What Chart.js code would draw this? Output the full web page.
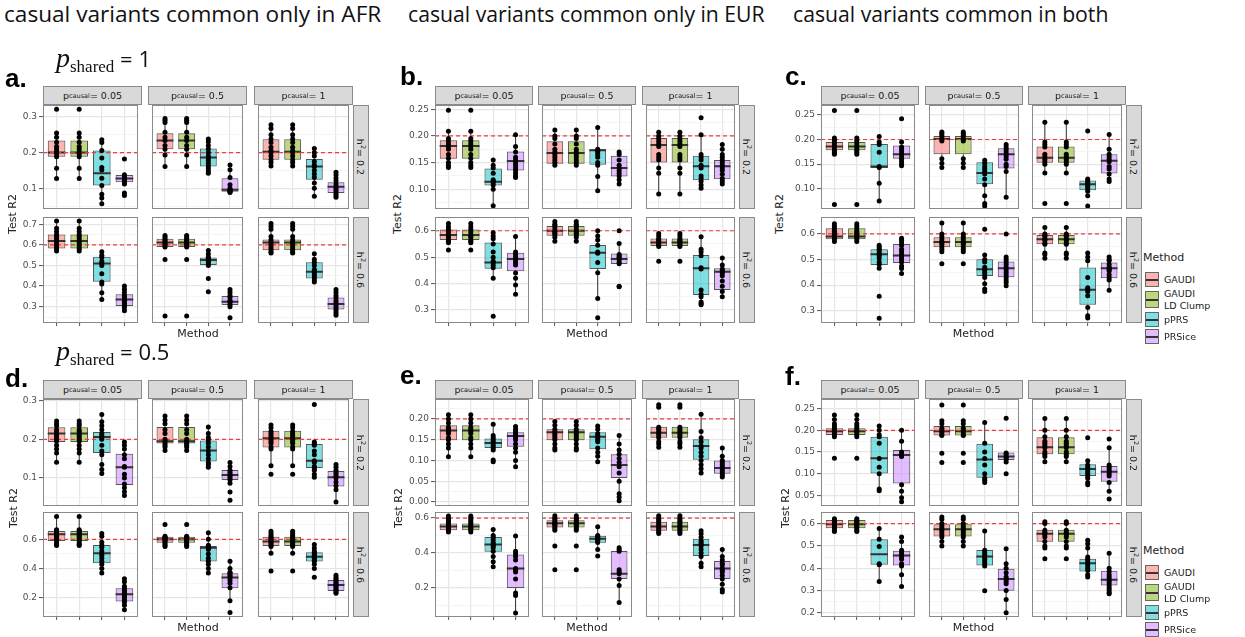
<!DOCTYPE html>
<html>
<head>
<meta charset="utf-8">
<script src="https://cdn.jsdelivr.net/npm/chart.js@4/dist/chart.umd.min.js"></script>
<style>
body { margin: 0; width: 1245px; height: 637px; position: relative; overflow: hidden; background: #fff; font-family: "DejaVu Sans", sans-serif; }
.strip { position: absolute; box-sizing: border-box; background: #d9d9d9; border: 1px solid #8a8a8a; color: #1a1a1a; font-size: 9.5px; display: flex; align-items: center; justify-content: center; white-space: nowrap; }
.strip sub { font-size: 6.5px; vertical-align: -1px; }
.strip sup { font-size: 6.5px; vertical-align: 4px; }
.rot { transform: rotate(90deg); }
.txt { position: absolute; white-space: nowrap; }
</style>
</head>
<body>
<script>
var methods = ['GAUDI', 'GAUDI\nLD Clump', 'pPRS', 'PRSice'];
var pcausal = ['0.05', '0.5', '1'];
var h2 = ['0.2', '0.6'];
var refLine = [0.2, 0.6];

// box: [whisker low, q1, median, q3, whisker high] for GAUDI, LD Clump, pPRS, PRSice; one block per p_causal
var boxA1 = [
  [[0.127,0.188,0.200,0.234,0.255],[0.127,0.188,0.200,0.234,0.255],[0.057,0.108,0.142,0.206,0.238],[0.112,0.117,0.127,0.137,0.140]],
  [[0.161,0.209,0.234,0.254,0.295],[0.161,0.209,0.234,0.254,0.295],[0.142,0.161,0.186,0.211,0.239],[0.087,0.090,0.096,0.128,0.167]],
  [[0.161,0.180,0.202,0.237,0.280],[0.161,0.180,0.202,0.237,0.280],[0.078,0.124,0.161,0.182,0.211],[0.075,0.087,0.104,0.117,0.147]]
];
var ptsA1 = [
  [[0.321,0.255,0.243,0.229,0.217,0.210,0.202,0.196,0.188,0.156,0.127],[0.321,0.255,0.243,0.229,0.217,0.210,0.202,0.196,0.188,0.156,0.127],[0.236,0.228,0.206,0.185,0.158,0.151,0.128,0.108,0.083,0.073,0.057],[0.182,0.138,0.132,0.127,0.122,0.118,0.112,0.087,0.080]],
  [[0.295,0.290,0.284,0.257,0.243,0.234,0.220,0.209,0.193,0.161],[0.295,0.290,0.284,0.257,0.243,0.234,0.220,0.209,0.193,0.161],[0.238,0.230,0.220,0.210,0.200,0.190,0.185,0.178,0.170,0.162,0.155,0.148,0.142],[0.165,0.152,0.130,0.110,0.100,0.096,0.094,0.092,0.090,0.088]],
  [[0.278,0.267,0.250,0.238,0.228,0.215,0.205,0.200,0.190,0.180,0.172,0.162],[0.278,0.267,0.250,0.238,0.228,0.215,0.205,0.200,0.190,0.180,0.172,0.162],[0.211,0.200,0.190,0.175,0.165,0.160,0.150,0.140,0.130,0.115,0.100,0.078],[0.145,0.137,0.128,0.120,0.112,0.105,0.100,0.095,0.090,0.085,0.080,0.075]]
];
var boxA2 = [
  [[0.566,0.582,0.619,0.650,0.715],[0.566,0.582,0.619,0.650,0.715],[0.335,0.421,0.510,0.542,0.569],[0.276,0.303,0.335,0.361,0.400]],
  [[0.585,0.589,0.611,0.629,0.647],[0.585,0.589,0.611,0.629,0.647],[0.497,0.502,0.526,0.539,0.574],[0.300,0.308,0.324,0.352,0.384]],
  [[0.558,0.574,0.611,0.626,0.703],[0.558,0.574,0.611,0.626,0.703],[0.413,0.437,0.469,0.516,0.558],[0.255,0.287,0.313,0.345,0.384]]
];
var ptsA2 = [
  [[0.715,0.680,0.665,0.650,0.640,0.630,0.620,0.610,0.600,0.590,0.580,0.570],[0.715,0.680,0.665,0.650,0.640,0.630,0.620,0.610,0.600,0.590,0.580,0.570],[0.566,0.550,0.540,0.520,0.510,0.500,0.460,0.420,0.410,0.368,0.335],[0.400,0.385,0.370,0.355,0.345,0.335,0.325,0.315,0.305,0.295,0.280]],
  [[0.645,0.638,0.630,0.622,0.615,0.610,0.603,0.596,0.590,0.529,0.255],[0.645,0.638,0.630,0.622,0.615,0.610,0.603,0.596,0.590,0.529,0.255],[0.572,0.555,0.540,0.535,0.525,0.520,0.510,0.500,0.437,0.373],[0.384,0.370,0.355,0.345,0.330,0.325,0.320,0.310,0.300,0.247]],
  [[0.703,0.690,0.675,0.640,0.625,0.615,0.605,0.595,0.585,0.575,0.565,0.560],[0.703,0.690,0.675,0.640,0.625,0.615,0.605,0.595,0.585,0.575,0.565,0.560],[0.557,0.530,0.515,0.500,0.480,0.470,0.460,0.450,0.440,0.430,0.420],[0.384,0.370,0.355,0.345,0.330,0.320,0.310,0.300,0.290,0.280,0.270,0.258]]
];

var boxB1 = [
  [[0.141,0.157,0.181,0.192,0.209],[0.141,0.157,0.181,0.192,0.209],[0.069,0.107,0.114,0.139,0.155],[0.122,0.135,0.153,0.171,0.202]],
  [[0.143,0.148,0.168,0.190,0.212],[0.143,0.148,0.168,0.190,0.212],[0.097,0.146,0.173,0.175,0.217],[0.110,0.124,0.140,0.163,0.172]],
  [[0.091,0.150,0.183,0.196,0.207],[0.091,0.150,0.183,0.196,0.207],[0.102,0.117,0.143,0.163,0.202],[0.109,0.119,0.143,0.155,0.184]]
];
var ptsB1 = [
  [[0.248,0.209,0.195,0.190,0.185,0.180,0.175,0.165,0.158,0.150,0.145,0.141],[0.248,0.209,0.195,0.190,0.185,0.180,0.175,0.165,0.158,0.150,0.145,0.141],[0.155,0.145,0.140,0.130,0.118,0.115,0.112,0.108,0.100,0.069],[0.202,0.180,0.170,0.160,0.155,0.150,0.145,0.140,0.135,0.130,0.125,0.122]],
  [[0.211,0.200,0.195,0.185,0.175,0.170,0.165,0.160,0.155,0.150,0.145],[0.211,0.200,0.195,0.185,0.175,0.170,0.165,0.160,0.155,0.150,0.145],[0.216,0.175,0.172,0.170,0.165,0.160,0.150,0.145,0.124,0.097],[0.170,0.165,0.155,0.145,0.140,0.135,0.130,0.125,0.118,0.110]],
  [[0.207,0.200,0.195,0.190,0.185,0.180,0.165,0.160,0.155,0.140,0.130,0.091],[0.207,0.200,0.195,0.190,0.185,0.180,0.165,0.160,0.155,0.140,0.130,0.091],[0.234,0.202,0.165,0.160,0.155,0.145,0.140,0.125,0.120,0.115,0.108,0.102],[0.184,0.175,0.165,0.160,0.155,0.150,0.145,0.140,0.135,0.128,0.120,0.115,0.110]]
];
var boxB2 = [
  [[0.548,0.565,0.584,0.605,0.628],[0.548,0.565,0.584,0.605,0.628],[0.420,0.456,0.480,0.556,0.592],[0.359,0.447,0.493,0.517,0.580]],
  [[0.558,0.581,0.600,0.618,0.638],[0.558,0.581,0.600,0.618,0.638],[0.344,0.455,0.517,0.546,0.600],[0.470,0.474,0.493,0.514,0.552]],
  [[0.537,0.542,0.556,0.571,0.592],[0.537,0.542,0.556,0.571,0.592],[0.319,0.357,0.458,0.508,0.577],[0.348,0.376,0.445,0.458,0.498]]
];
var ptsB2 = [
  [[0.627,0.615,0.605,0.595,0.585,0.580,0.575,0.565,0.560,0.555,0.527],[0.627,0.615,0.605,0.595,0.585,0.580,0.575,0.565,0.560,0.555,0.527],[0.592,0.580,0.570,0.550,0.520,0.500,0.485,0.480,0.470,0.460,0.420,0.277],[0.578,0.520,0.510,0.500,0.495,0.490,0.480,0.470,0.440,0.420,0.395,0.360]],
  [[0.635,0.625,0.620,0.610,0.600,0.595,0.590,0.585,0.575,0.560],[0.635,0.625,0.620,0.610,0.600,0.595,0.590,0.585,0.575,0.560],[0.600,0.580,0.565,0.545,0.520,0.515,0.480,0.441,0.344,0.271],[0.600,0.552,0.510,0.505,0.500,0.495,0.490,0.480,0.475,0.390,0.388]],
  [[0.590,0.580,0.570,0.565,0.560,0.555,0.550,0.545,0.540,0.485],[0.590,0.580,0.570,0.565,0.560,0.555,0.550,0.545,0.540,0.485],[0.577,0.530,0.520,0.505,0.460,0.455,0.376,0.360,0.350,0.330,0.325,0.320],[0.497,0.470,0.455,0.450,0.445,0.440,0.430,0.410,0.390,0.370,0.350]]
];

var boxC1 = [
  [[0.172,0.178,0.186,0.195,0.203],[0.172,0.178,0.186,0.195,0.203],[0.075,0.142,0.145,0.191,0.207],[0.147,0.161,0.170,0.188,0.195]],
  [[0.143,0.170,0.201,0.207,0.215],[0.143,0.170,0.201,0.207,0.215],[0.065,0.109,0.132,0.154,0.159],[0.083,0.141,0.170,0.182,0.195]],
  [[0.132,0.153,0.163,0.186,0.236],[0.132,0.153,0.163,0.186,0.236],[0.086,0.097,0.109,0.117,0.121],[0.118,0.131,0.157,0.170,0.212]]
];
var ptsC1 = [
  [[0.259,0.203,0.198,0.193,0.188,0.183,0.178,0.174,0.170,0.068],[0.259,0.203,0.198,0.193,0.188,0.183,0.178,0.174,0.170,0.068],[0.206,0.195,0.190,0.174,0.145,0.143,0.111,0.075],[0.242,0.195,0.185,0.180,0.175,0.170,0.165,0.160,0.155,0.150,0.147]],
  [[0.215,0.212,0.208,0.205,0.200,0.197,0.161,0.152,0.143],[0.215,0.212,0.208,0.205,0.200,0.197,0.161,0.152,0.143],[0.158,0.152,0.145,0.140,0.135,0.130,0.120,0.108,0.086,0.070,0.065],[0.190,0.185,0.180,0.175,0.170,0.165,0.160,0.150,0.145,0.135,0.083]],
  [[0.235,0.195,0.190,0.185,0.170,0.165,0.160,0.155,0.150,0.132,0.070],[0.235,0.195,0.190,0.185,0.170,0.165,0.160,0.155,0.150,0.132,0.070],[0.217,0.120,0.117,0.113,0.110,0.107,0.104,0.100,0.095,0.086,0.065],[0.210,0.180,0.170,0.165,0.160,0.155,0.145,0.140,0.130,0.120,0.115]]
];
var boxC2 = [
  [[0.570,0.579,0.590,0.622,0.642],[0.570,0.579,0.590,0.622,0.642],[0.466,0.479,0.521,0.540,0.557],[0.444,0.486,0.516,0.561,0.583]],
  [[0.525,0.548,0.568,0.587,0.644],[0.525,0.548,0.568,0.587,0.644],[0.375,0.436,0.462,0.501,0.518],[0.397,0.431,0.466,0.492,0.512]],
  [[0.505,0.560,0.579,0.596,0.626],[0.505,0.560,0.579,0.596,0.626],[0.271,0.323,0.382,0.469,0.527],[0.379,0.427,0.466,0.488,0.512]]
];
var ptsC2 = [
  [[0.640,0.630,0.620,0.610,0.605,0.600,0.595,0.590,0.585,0.580,0.570],[0.640,0.630,0.620,0.610,0.605,0.600,0.595,0.590,0.585,0.580,0.570],[0.556,0.548,0.540,0.535,0.525,0.520,0.515,0.505,0.490,0.480,0.466,0.356,0.271],[0.583,0.575,0.565,0.555,0.540,0.530,0.520,0.510,0.500,0.490,0.475,0.465,0.445]],
  [[0.643,0.600,0.590,0.580,0.570,0.565,0.560,0.550,0.540,0.530,0.483],[0.643,0.600,0.590,0.580,0.570,0.565,0.560,0.550,0.540,0.530,0.483],[0.618,0.518,0.500,0.490,0.470,0.460,0.450,0.440,0.430,0.405,0.385,0.375],[0.600,0.510,0.500,0.490,0.480,0.470,0.460,0.450,0.440,0.430,0.420,0.410,0.397]],
  [[0.625,0.600,0.595,0.590,0.580,0.575,0.565,0.560,0.525,0.520,0.505],[0.625,0.600,0.595,0.590,0.580,0.575,0.565,0.560,0.525,0.520,0.505],[0.525,0.510,0.495,0.430,0.390,0.385,0.375,0.358,0.313,0.280,0.272],[0.510,0.500,0.495,0.480,0.470,0.465,0.460,0.455,0.440,0.430,0.420,0.380]]
];

var boxD1 = [
  [[0.141,0.193,0.215,0.231,0.247],[0.141,0.193,0.215,0.231,0.247],[0.112,0.165,0.206,0.219,0.264],[0.052,0.082,0.128,0.163,0.193]],
  [[0.171,0.189,0.195,0.232,0.261],[0.171,0.189,0.195,0.232,0.261],[0.125,0.143,0.171,0.197,0.232],[0.087,0.095,0.108,0.121,0.141]],
  [[0.132,0.179,0.203,0.222,0.237],[0.132,0.179,0.203,0.222,0.237],[0.102,0.126,0.145,0.188,0.193],[0.038,0.078,0.102,0.118,0.136]]
];
var ptsD1 = [
  [[0.247,0.240,0.235,0.225,0.220,0.215,0.210,0.205,0.200,0.195,0.185,0.175,0.165,0.141],[0.247,0.240,0.235,0.225,0.220,0.215,0.210,0.205,0.200,0.195,0.185,0.175,0.165,0.141],[0.264,0.245,0.235,0.225,0.215,0.210,0.205,0.200,0.185,0.170,0.160,0.135,0.122,0.112],[0.193,0.185,0.175,0.160,0.150,0.130,0.128,0.110,0.100,0.085,0.075,0.065,0.055]],
  [[0.260,0.250,0.240,0.225,0.215,0.200,0.195,0.190,0.185,0.180,0.171],[0.260,0.250,0.240,0.225,0.215,0.200,0.195,0.190,0.185,0.180,0.171],[0.232,0.215,0.205,0.198,0.190,0.180,0.170,0.160,0.150,0.140,0.135,0.128],[0.140,0.130,0.120,0.115,0.110,0.105,0.100,0.095,0.087,0.064,0.043]],
  [[0.237,0.230,0.220,0.215,0.210,0.205,0.200,0.195,0.190,0.180,0.175,0.132,0.110],[0.237,0.230,0.220,0.215,0.210,0.205,0.200,0.195,0.190,0.180,0.175,0.132,0.110],[0.290,0.193,0.190,0.185,0.170,0.160,0.145,0.140,0.130,0.125,0.120,0.110,0.102],[0.135,0.128,0.120,0.115,0.110,0.105,0.100,0.090,0.080,0.070,0.038]]
];
var boxD2 = [
  [[0.558,0.589,0.634,0.657,0.755],[0.558,0.589,0.634,0.657,0.755],[0.368,0.436,0.505,0.561,0.641],[0.118,0.175,0.225,0.266,0.330]],
  [[0.550,0.577,0.600,0.618,0.620],[0.550,0.577,0.600,0.618,0.620],[0.368,0.448,0.543,0.555,0.645],[0.180,0.266,0.339,0.368,0.452]],
  [[0.505,0.555,0.584,0.618,0.657],[0.505,0.555,0.584,0.618,0.657],[0.402,0.448,0.480,0.511,0.566],[0.232,0.248,0.289,0.323,0.357]]
];
var ptsD2 = [
  [[0.755,0.665,0.660,0.650,0.640,0.630,0.620,0.610,0.600,0.590,0.575,0.565,0.558],[0.755,0.665,0.660,0.650,0.640,0.630,0.620,0.610,0.600,0.590,0.575,0.565,0.558],[0.640,0.620,0.580,0.560,0.545,0.520,0.500,0.490,0.470,0.450,0.430,0.400,0.370],[0.330,0.310,0.280,0.265,0.250,0.235,0.225,0.210,0.200,0.185,0.170,0.150,0.120]],
  [[0.700,0.620,0.615,0.610,0.605,0.600,0.595,0.590,0.580,0.570,0.560,0.550],[0.700,0.620,0.615,0.610,0.605,0.600,0.595,0.590,0.580,0.570,0.560,0.550],[0.644,0.600,0.560,0.550,0.540,0.530,0.500,0.470,0.450,0.430,0.400,0.370],[0.450,0.400,0.375,0.370,0.360,0.350,0.340,0.320,0.300,0.270,0.180,0.100]],
  [[0.655,0.640,0.625,0.615,0.605,0.600,0.590,0.580,0.570,0.560,0.550,0.505,0.384],[0.655,0.640,0.625,0.615,0.605,0.600,0.590,0.580,0.570,0.560,0.550,0.505,0.384],[0.565,0.540,0.520,0.510,0.500,0.490,0.480,0.470,0.460,0.450,0.430,0.400,0.341],[0.355,0.340,0.330,0.320,0.310,0.300,0.290,0.280,0.270,0.260,0.250,0.240,0.232]]
];

var boxE1 = [
  [[0.109,0.149,0.172,0.185,0.212],[0.109,0.149,0.172,0.185,0.212],[0.122,0.130,0.142,0.153,0.187],[0.085,0.133,0.159,0.168,0.183]],
  [[0.125,0.149,0.168,0.175,0.195],[0.125,0.149,0.168,0.175,0.195],[0.097,0.127,0.157,0.168,0.184],[0.003,0.058,0.089,0.115,0.163]],
  [[0.131,0.155,0.167,0.181,0.185],[0.131,0.155,0.167,0.181,0.185],[0.070,0.102,0.135,0.151,0.212],[0.059,0.068,0.082,0.100,0.131]]
];
var ptsE1 = [
  [[0.210,0.200,0.190,0.180,0.175,0.170,0.165,0.155,0.150,0.140,0.130,0.109],[0.210,0.200,0.190,0.180,0.175,0.170,0.165,0.155,0.150,0.140,0.130,0.109],[0.187,0.160,0.155,0.150,0.145,0.140,0.135,0.130,0.125,0.101,0.097],[0.182,0.175,0.170,0.165,0.160,0.155,0.150,0.140,0.130,0.120,0.100,0.085]],
  [[0.194,0.185,0.175,0.170,0.165,0.160,0.155,0.150,0.140,0.130,0.125],[0.194,0.185,0.175,0.170,0.165,0.160,0.155,0.150,0.140,0.130,0.125],[0.183,0.175,0.165,0.160,0.155,0.150,0.145,0.130,0.120,0.110,0.097],[0.160,0.140,0.125,0.115,0.105,0.095,0.085,0.070,0.050,0.020,0.012,0.003]],
  [[0.234,0.228,0.180,0.175,0.170,0.165,0.160,0.155,0.145,0.140,0.132],[0.234,0.228,0.180,0.175,0.170,0.165,0.160,0.155,0.145,0.140,0.132],[0.211,0.170,0.155,0.145,0.135,0.130,0.120,0.110,0.100,0.090,0.080,0.070],[0.130,0.110,0.100,0.095,0.090,0.085,0.080,0.075,0.070,0.065,0.060]]
];
var boxE2 = [
  [[0.517,0.530,0.552,0.569,0.614],[0.517,0.530,0.552,0.569,0.614],[0.318,0.407,0.449,0.492,0.540],[0.053,0.198,0.310,0.391,0.497]],
  [[0.527,0.546,0.571,0.588,0.614],[0.527,0.546,0.571,0.588,0.614],[0.420,0.459,0.482,0.498,0.552],[0.115,0.250,0.281,0.411,0.430]],
  [[0.511,0.527,0.552,0.579,0.614],[0.511,0.527,0.552,0.579,0.614],[0.310,0.382,0.445,0.482,0.527],[0.175,0.250,0.310,0.353,0.430]]
];
var ptsE2 = [
  [[0.612,0.600,0.590,0.580,0.570,0.560,0.550,0.545,0.540,0.530,0.520],[0.612,0.600,0.590,0.580,0.570,0.560,0.550,0.545,0.540,0.530,0.520],[0.535,0.500,0.490,0.475,0.460,0.450,0.440,0.430,0.410,0.380,0.350,0.320],[0.497,0.410,0.395,0.380,0.360,0.310,0.300,0.290,0.250,0.170,0.155,0.055]],
  [[0.613,0.600,0.595,0.585,0.575,0.570,0.565,0.560,0.550,0.540,0.530,0.440,0.304],[0.613,0.600,0.595,0.585,0.575,0.570,0.565,0.560,0.550,0.540,0.530,0.440,0.304],[0.550,0.500,0.495,0.490,0.485,0.480,0.475,0.470,0.460,0.420,0.382],[0.430,0.420,0.410,0.304,0.290,0.280,0.250,0.213,0.115]],
  [[0.613,0.600,0.590,0.580,0.570,0.560,0.550,0.540,0.530,0.520,0.511],[0.613,0.600,0.590,0.580,0.570,0.560,0.550,0.540,0.530,0.520,0.511],[0.527,0.510,0.490,0.470,0.460,0.450,0.440,0.420,0.400,0.380,0.340,0.320],[0.420,0.380,0.360,0.340,0.330,0.310,0.300,0.290,0.270,0.250,0.220,0.190,0.175]]
];

var boxF1 = [
  [[0.185,0.189,0.198,0.205,0.225],[0.185,0.189,0.198,0.205,0.225],[0.061,0.101,0.136,0.185,0.210],[0.036,0.078,0.143,0.155,0.202]],
  [[0.188,0.188,0.198,0.210,0.225],[0.188,0.188,0.198,0.210,0.225],[0.078,0.091,0.133,0.169,0.220],[0.132,0.132,0.140,0.149,0.149]],
  [[0.128,0.145,0.161,0.184,0.228],[0.128,0.145,0.161,0.184,0.228],[0.074,0.095,0.111,0.122,0.130],[0.059,0.082,0.105,0.118,0.160]]
];
var ptsF1 = [
  [[0.235,0.225,0.215,0.210,0.205,0.200,0.198,0.195,0.190,0.185,0.136],[0.235,0.225,0.215,0.210,0.205,0.200,0.198,0.195,0.190,0.185,0.136],[0.210,0.200,0.190,0.185,0.170,0.135,0.115,0.100,0.065,0.061],[0.200,0.175,0.150,0.145,0.140,0.075,0.060,0.045,0.036]],
  [[0.258,0.222,0.215,0.205,0.200,0.195,0.190,0.188,0.147,0.126],[0.258,0.222,0.215,0.205,0.200,0.195,0.190,0.188,0.147,0.126],[0.218,0.170,0.150,0.135,0.120,0.100,0.090,0.085,0.080],[0.228,0.148,0.145,0.140,0.137,0.133,0.127,0.100]],
  [[0.227,0.200,0.185,0.175,0.170,0.165,0.160,0.150,0.145,0.140,0.128],[0.227,0.200,0.185,0.175,0.170,0.165,0.160,0.150,0.145,0.140,0.128],[0.183,0.130,0.120,0.115,0.110,0.105,0.100,0.095,0.090,0.080,0.075],[0.180,0.160,0.120,0.115,0.110,0.105,0.100,0.095,0.080,0.060,0.042]]
];
var boxF2 = [
  [[0.564,0.579,0.597,0.616,0.624],[0.564,0.579,0.597,0.616,0.624],[0.340,0.415,0.463,0.530,0.579],[0.318,0.412,0.457,0.478,0.542]],
  [[0.500,0.542,0.575,0.597,0.631],[0.500,0.542,0.575,0.597,0.631],[0.410,0.412,0.452,0.481,0.567],[0.200,0.299,0.352,0.397,0.490]],
  [[0.490,0.519,0.554,0.572,0.609],[0.490,0.519,0.554,0.572,0.609],[0.358,0.385,0.422,0.442,0.527],[0.280,0.322,0.348,0.388,0.467]]
];
var ptsF2 = [
  [[0.622,0.615,0.610,0.605,0.600,0.595,0.590,0.585,0.580,0.570,0.564],[0.622,0.615,0.610,0.605,0.600,0.595,0.590,0.585,0.580,0.570,0.564],[0.578,0.530,0.497,0.420,0.415,0.340],[0.540,0.520,0.480,0.470,0.460,0.450,0.440,0.420,0.410,0.370,0.318]],
  [[0.630,0.620,0.600,0.590,0.580,0.570,0.560,0.550,0.540,0.520,0.500],[0.630,0.620,0.600,0.590,0.580,0.570,0.560,0.550,0.540,0.520,0.500],[0.567,0.480,0.470,0.460,0.450,0.440,0.430,0.420,0.410,0.299],[0.487,0.420,0.400,0.380,0.360,0.350,0.340,0.330,0.300,0.260,0.200]],
  [[0.608,0.600,0.570,0.560,0.555,0.550,0.540,0.520,0.500,0.490,0.442],[0.608,0.600,0.570,0.560,0.555,0.550,0.540,0.520,0.500,0.490,0.442],[0.525,0.510,0.490,0.450,0.440,0.430,0.420,0.410,0.400,0.390,0.370,0.360],[0.467,0.400,0.385,0.370,0.360,0.350,0.340,0.330,0.320,0.310,0.300,0.290,0.285]]
];

// ---- layout (pixels) ----
var FILL = ['rgba(248,118,109,0.55)', 'rgba(124,174,0,0.5)', 'rgba(0,191,196,0.5)', 'rgba(199,124,255,0.5)'];
var AXW = 30, PADY = 8, RSW = 16, HALF = 0.39;
var COLS = [
  [[43, 142], [148, 247], [254, 353]],
  [[435, 533], [538, 636], [642, 739]],
  [[821, 919], [925, 1023], [1028, 1126]]
];
var ROWS = [[[105, 209], [217, 323]], [[399, 506], [512, 617]]];
var STRIP = [[86, 105], [380, 399]];

var panels = [
  {tag: 'a.', box: [boxA1, boxA2], pts: [ptsA1, ptsA2], col: 0, row: 0, lx: 5, ly: 65, tx: 12, scale: [{min: 0.042, max: 0.333, step: 0.1, dec: 1}, {min: 0.221, max: 0.735, step: 0.1, dec: 1}]},
  {tag: 'b.', box: [boxB1, boxB2], pts: [ptsB1, ptsB2], col: 1, row: 0, lx: 400, ly: 63, tx: 397, scale: [{min: 0.063, max: 0.258, step: 0.05, dec: 2}, {min: 0.251, max: 0.652, step: 0.1, dec: 1}]},
  {tag: 'c.', box: [boxC1, boxC2], pts: [ptsC1, ptsC2], col: 2, row: 0, lx: 785, ly: 63, tx: 779, scale: [{min: 0.059, max: 0.270, step: 0.05, dec: 2}, {min: 0.252, max: 0.666, step: 0.1, dec: 1}]},
  {tag: 'd.', box: [boxD1, boxD2], pts: [ptsD1, ptsD2], col: 0, row: 1, lx: 5, ly: 365, tx: 13, scale: [{min: 0.028, max: 0.304, step: 0.1, dec: 1}, {min: 0.070, max: 0.786, step: 0.2, dec: 1}]},
  {tag: 'e.', box: [boxE1, boxE2], pts: [ptsE1, ptsE2], col: 1, row: 1, lx: 400, ly: 362, tx: 398, scale: [{min: -0.0095, max: 0.248, step: 0.05, dec: 2}, {min: 0.032, max: 0.635, step: 0.2, dec: 1}]},
  {tag: 'f.', box: [boxF1, boxF2], pts: [ptsF1, ptsF2], col: 2, row: 1, lx: 785, ly: 363, tx: 785, scale: [{min: 0.026, max: 0.272, step: 0.05, dec: 2}, {min: 0.181, max: 0.652, step: 0.1, dec: 1}]}
];

Chart.defaults.font.family = 'DejaVu Sans';
Chart.defaults.color = '#4d4d4d';

// panel border on top of everything
var frame = {
  id: 'frame',
  afterDraw: function (chart) {
    var a = chart.chartArea, g = chart.ctx;
    g.save();
    g.strokeStyle = '#8a8a8a';
    g.lineWidth = 1;
    g.strokeRect(a.left + 0.5, a.top + 0.5, a.right - a.left - 1, a.bottom - a.top - 1);
    g.restore();
  }
};

function isMajor(v, step) {
  return Math.abs(v / step - Math.round(v / step)) < 1e-6;
}

function addText(html, css) {
  var d = document.createElement('div');
  d.className = 'txt';
  d.innerHTML = html;
  d.style.cssText += css;
  document.body.appendChild(d);
  return d;
}

function makeFacet(p, r, c) {
  var cols = COLS[p.col][c], rows = ROWS[p.row][r];
  var x0 = cols[0], x1 = cols[1], y0 = rows[0], y1 = rows[1];
  var axw = c === 0 ? AXW : 0;
  var sc = p.scale[r];
  var box = p.box[r][c], pts = p.pts[r][c];

  var cv = document.createElement('canvas');
  cv.width = x1 - x0 + axw;
  cv.height = y1 - y0 + 2 * PADY;
  cv.style.cssText = 'position:absolute;left:' + (x0 - axw) + 'px;top:' + (y0 - PADY) + 'px';
  document.body.appendChild(cv);

  var boxes = [], whisk = [], med = [], dots = [];
  box.forEach(function (b, i) {
    var x = i + 1;
    boxes.push({x: x, y: [b[1], b[3]]});
    whisk.push({x: x, y: b[0]}, {x: x, y: b[1]}, {x: x, y: null}, {x: x, y: b[3]}, {x: x, y: b[4]}, {x: x, y: null});
    med.push({x: x - HALF, y: b[2]}, {x: x + HALF, y: b[2]}, {x: x, y: null});
  });
  pts.forEach(function (list, i) {
    list.forEach(function (v) { dots.push({x: i + 1, y: v}); });
  });

  new Chart(cv, {
    type: 'scatter',
    data: {
      datasets: [
        {type: 'scatter', data: dots, order: 1, pointRadius: 2.5, pointBackgroundColor: '#000', pointBorderWidth: 0},
        {type: 'line', data: [{x: 0.4, y: refLine[r]}, {x: 4.6, y: refLine[r]}], order: 2, borderColor: '#f23c3c', borderWidth: 1.2, borderDash: [4, 3], pointRadius: 0},
        {type: 'line', data: med, order: 3, borderColor: '#333', borderWidth: 2, pointRadius: 0, spanGaps: false},
        {type: 'bar', data: boxes, order: 4, backgroundColor: FILL, borderColor: '#555', borderWidth: 1, borderSkipped: false,
         grouped: false, categoryPercentage: 1, barPercentage: 0.78},
        {type: 'line', data: whisk, order: 5, borderColor: '#333', borderWidth: 1, pointRadius: 0, spanGaps: false}
      ]
    },
    options: {
      responsive: false,
      animation: false,
      devicePixelRatio: 1,
      layout: {padding: {left: 0, right: 0, top: PADY, bottom: PADY}},
      plugins: {legend: {display: false}, tooltip: {enabled: false}},
      scales: {
        x: {
          type: 'linear', min: 0.4, max: 4.6, offset: false,
          ticks: {display: false, stepSize: 1, includeBounds: false},
          grid: {offset: false, color: '#e6e6e6', lineWidth: 1.2, drawTicks: r === 1, tickLength: 3, tickColor: '#555', tickWidth: 1},
          border: {display: false},
          afterFit: function (s) { s.height = 0; }
        },
        y: {
          type: 'linear', min: sc.min, max: sc.max, beginAtZero: false,
          ticks: {
            display: c === 0, stepSize: sc.step / 2, includeBounds: false, autoSkip: false, padding: 2,
            color: '#4d4d4d', font: {size: 9},
            callback: function (v) { return isMajor(v, sc.step) ? v.toFixed(sc.dec) : ''; }
          },
          grid: {
            color: function (ctx) { return isMajor(ctx.tick.value, sc.step) ? '#e6e6e6' : '#f2f2f2'; },
            lineWidth: function (ctx) { return isMajor(ctx.tick.value, sc.step) ? 1.2 : 0.8; },
            drawTicks: c === 0, tickLength: 4, tickWidth: 1,
            tickColor: function (ctx) { return isMajor(ctx.tick.value, sc.step) ? '#555' : 'rgba(0,0,0,0)'; }
          },
          border: {display: false},
          afterFit: function (s) { s.width = axw; }
        }
      }
    },
    plugins: [frame]
  });
}

panels.forEach(function (p) {
  var cols = COLS[p.col], rows = ROWS[p.row], st = STRIP[p.row];
  for (var r = 0; r < 2; r++) {
    for (var c = 0; c < 3; c++) makeFacet(p, r, c);
  }
  // facet strips
  pcausal.forEach(function (v, c) {
    var s = document.createElement('div');
    s.className = 'strip';
    s.style.cssText = 'left:' + cols[c][0] + 'px;top:' + st[0] + 'px;width:' + (cols[c][1] - cols[c][0]) + 'px;height:' + (st[1] - st[0]) + 'px';
    s.innerHTML = 'p<sub>causal</sub>= ' + v;
    document.body.appendChild(s);
  });
  h2.forEach(function (v, r) {
    var s = document.createElement('div');
    s.className = 'strip';
    s.style.cssText = 'left:' + cols[2][1] + 'px;top:' + rows[r][0] + 'px;width:' + RSW + 'px;height:' + (rows[r][1] - rows[r][0]) + 'px';
    s.innerHTML = '<span class="rot">h<sup>2</sup>= ' + v + '</span>';
    document.body.appendChild(s);
  });
  var mid = (rows[0][0] + rows[1][1]) / 2;
  addText('Test R2', 'left:' + p.tx + 'px;top:' + mid + 'px;font-size:11px;color:#222;transform:translate(-50%,-50%) rotate(-90deg);');
  var cx = (cols[0][0] + cols[2][1]) / 2;
  addText('Method', 'left:' + cx + 'px;top:' + (rows[1][1] + 10) + 'px;font-size:11px;color:#222;transform:translate(-50%,-50%);');
  addText(p.tag, 'left:' + p.lx + 'px;top:' + p.ly + 'px;font-family:"Liberation Sans";font-weight:bold;font-size:26px;line-height:26px;color:#000;');
});

// legends beside panels c and f
[251, 544].forEach(function (top) {
  addText('Method', 'left:1143px;top:' + top + 'px;font-size:11px;color:#222;');
  var keyTop = [top + 21, top + 40, top + 61, top + 78];
  var keyH = [15, 17, 15, 15];
  methods.forEach(function (m, i) {
    var k = document.createElement('div');
    k.style.cssText = 'position:absolute;left:1145px;top:' + keyTop[i] + 'px;width:14px;height:' + keyH[i] + 'px;box-sizing:border-box;border:1px solid #666;background:' + FILL[i] + ';';
    k.innerHTML = '<div style="position:absolute;left:0;right:0;top:' + (keyH[i] / 2 - 1.5) + 'px;height:1.5px;background:#333"></div>';
    document.body.appendChild(k);
    addText(m.replace('\n', '<br>'), 'left:1164px;top:' + (keyTop[i] + keyH[i] / 2) + 'px;transform:translateY(-50%);font-size:9.5px;line-height:12px;color:#222;');
  });
});

// column titles
var titles = ['casual variants common only in AFR', 'casual variants common only in EUR', 'casual variants common in both'];
var titleLeft = [4, 408, 793];
var titleSize = [22.6, 21.2, 21.2];
titles.forEach(function (t, i) {
  addText(t, 'left:' + titleLeft[i] + 'px;top:2px;font-family:"Open Sans";font-size:' + titleSize[i] + 'px;line-height:24px;color:#111;');
});

var pshared = ['1', '0.5'];
[42, 335].forEach(function (top, i) {
  addText('<span style="font-family:\'Liberation Serif\';font-style:italic;font-size:28px">p</span>' +
    '<span style="font-family:\'Liberation Serif\';font-size:17px;position:relative;top:5px">shared</span>' +
    '<span style="font-family:\'Open Sans\';font-size:22px">&nbsp;=&nbsp;' + pshared[i] + '</span>',
    'left:56px;top:' + top + 'px;color:#111;');
});
</script>
</body>
</html>
